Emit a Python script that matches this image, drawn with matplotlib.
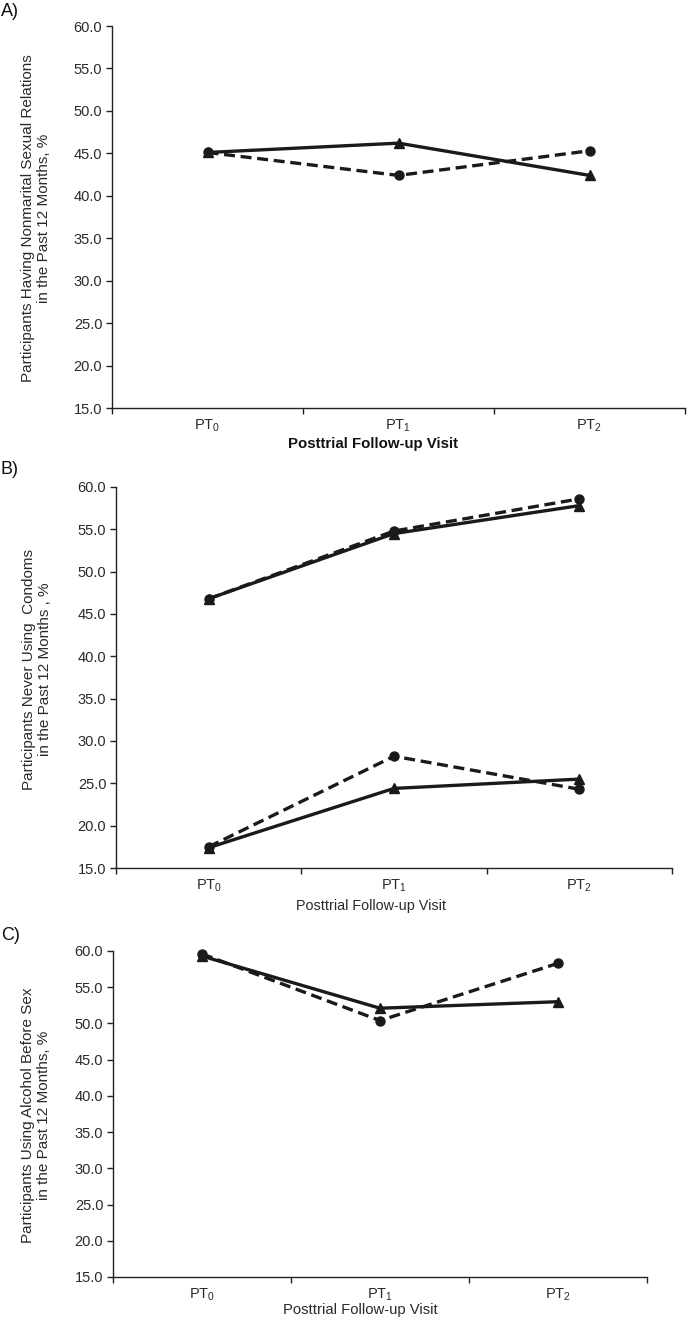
import matplotlib
matplotlib.use("Agg")
import matplotlib.pyplot as plt
import numpy as np

plt.rcParams['font.family'] = ['Liberation Sans', 'DejaVu Sans']
plt.rcParams['mathtext.fontset'] = 'custom'
plt.rcParams['mathtext.rm'] = 'Liberation Sans'

categories = [r'PT$_\mathregular{0}$', r'PT$_\mathregular{1}$', r'PT$_\mathregular{2}$']
yticks = [15.0, 20.0, 25.0, 30.0, 35.0, 40.0, 45.0, 50.0, 55.0, 60.0]

# Panel A
a_solid = [45.1, 46.2, 42.4]
a_dashed = [45.1, 42.4, 45.3]
# Panel B (two pairs)
b_upper_solid = [46.8, 54.5, 57.8]
b_upper_dashed = [46.8, 54.8, 58.6]
b_lower_solid = [17.4, 24.4, 25.5]
b_lower_dashed = [17.5, 28.2, 24.3]
# Panel C
c_solid = [59.3, 52.1, 53.0]
c_dashed = [59.6, 50.4, 58.3]

ylabels = [
    "Participants Having Nonmarital Sexual Relations\nin the Past 12 Months, %",
    "Participants Never Using  Condoms\nin the Past 12 Months , %",
    "Participants Using Alcohol Before Sex\nin the Past 12 Months, %",
]
xlabel = "Posttrial Follow-up Visit"

W, H = 688, 1323
fig = plt.figure(figsize=(W / 100, H / 100), dpi=100)

def box(l, r, t, b):
    return [l / W, 1 - b / H, (r - l) / W, (b - t) / H]

axes_px = [(112, 685, 26, 408), (116, 672, 487, 868), (113, 647, 951, 1277)]
ylabel_pos = [(36, 218), (37, 669), (36, 1115)]
xlabel_pos = [(373, 444, 'bold', 10.8), (371, 906, 'normal', 10.4), (360, 1310, 'normal', 10.7)]
letters = [("A)", 12), ("B)", 470), ("C)", 935)]

series = [
    [(a_solid, '-', '^'), (a_dashed, '--', 'o')],
    [(b_upper_solid, '-', '^'), (b_upper_dashed, '--', 'o'),
     (b_lower_solid, '-', '^'), (b_lower_dashed, '--', 'o')],
    [(c_solid, '-', '^'), (c_dashed, '--', 'o')],
]

col = '#1a1a1a'
tcol = '#2a2a2a'
x = np.arange(len(categories)) + 0.5

for i, (l, r, t, b) in enumerate(axes_px):
    ax = fig.add_axes(box(l, r, t, b))
    for vals, ls, mk in series[i]:
        kw = dict(color=col, lw=2.4, marker=mk, markersize=6.5, clip_on=False)
        if ls == '--':
            ax.plot(x, vals, linestyle=(0, (3.3, 1.7)), zorder=3, **kw)
        else:
            ax.plot(x, vals, linestyle='-', zorder=4, **kw)
    ax.set_xlim(0, 3)
    ax.set_ylim(15, 60)
    ax.set_yticks(yticks)
    ax.set_yticklabels([f"{v:.1f}" for v in yticks])
    ax.set_xticks([0, 1, 2, 3])
    ax.set_xticklabels([])
    ax.set_xticks(x, minor=True)
    ax.set_xticklabels(categories, minor=True)
    ax.tick_params(axis='x', which='minor', length=0, pad=7, labelsize=10.5, labelcolor=tcol)
    ax.tick_params(axis='x', which='major', length=4, width=1, color='#222222', direction='out')
    ax.tick_params(axis='y', length=4, width=1, color='#222222', direction='out',
                   labelsize=10.5, labelcolor=tcol, pad=3)
    for s in ['top', 'right']:
        ax.spines[s].set_visible(False)
    for s in ['left', 'bottom']:
        ax.spines[s].set_color('#222222')
        ax.spines[s].set_linewidth(1.0)
    yx, yy = ylabel_pos[i]
    fig.text(yx / W, 1 - yy / H, ylabels[i], rotation=90, ha='center', va='center',
             fontsize=11, color=tcol, linespacing=1.15)
    xx, xy, fw, fs = xlabel_pos[i]
    fig.text(xx / W, 1 - xy / H, xlabel, ha='center', va='center', fontsize=fs,
             fontweight=fw, color=tcol if fw == 'normal' else '#111111')
    lt, ly = letters[i]
    fig.text(1 / W, 1 - ly / H, lt, ha='left', va='center', fontsize=13, color='#111111')

fig.savefig("out.png", dpi=100)
